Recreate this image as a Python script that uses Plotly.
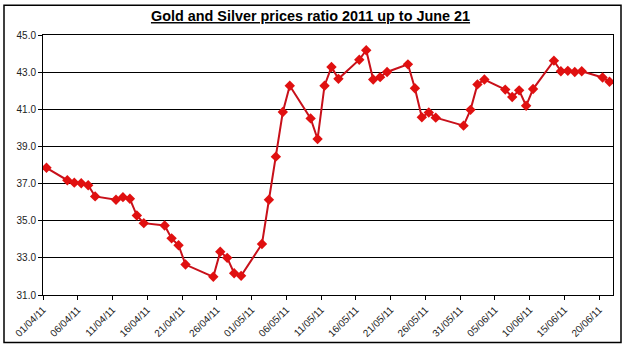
import plotly.graph_objects as go
import pandas as pd

dates = ["2011-04-01", "2011-04-04", "2011-04-05", "2011-04-06", "2011-04-07", "2011-04-08",
         "2011-04-11", "2011-04-12", "2011-04-13", "2011-04-14", "2011-04-15",
         "2011-04-18", "2011-04-19", "2011-04-20", "2011-04-21", "2011-04-25",
         "2011-04-26", "2011-04-27", "2011-04-28", "2011-04-29",
         "2011-05-02", "2011-05-03", "2011-05-04", "2011-05-05", "2011-05-06",
         "2011-05-09", "2011-05-10", "2011-05-11", "2011-05-12", "2011-05-13",
         "2011-05-16", "2011-05-17", "2011-05-18", "2011-05-19", "2011-05-20",
         "2011-05-23", "2011-05-24", "2011-05-25", "2011-05-26", "2011-05-27",
         "2011-05-31", "2011-06-01", "2011-06-02", "2011-06-03",
         "2011-06-06", "2011-06-07", "2011-06-08", "2011-06-09", "2011-06-10",
         "2011-06-13", "2011-06-14", "2011-06-15", "2011-06-16", "2011-06-17",
         "2011-06-20", "2011-06-21"]
ratio = [37.85, 37.18, 37.05, 37.02, 36.91, 36.31,
         36.13, 36.27, 36.18, 35.28, 34.87,
         34.74, 34.05, 33.68, 32.64, 31.98,
         33.33, 33.00, 32.17, 32.03,
         33.75, 36.13, 38.45, 40.85, 42.27,
         40.51, 39.40, 42.27, 43.28, 42.64,
         43.67, 44.18, 42.60, 42.73, 43.01,
         43.42, 42.13, 40.57, 40.83, 40.55,
         40.12, 40.97, 42.34, 42.60,
         42.06, 41.66, 42.02, 41.19, 42.09,
         43.62, 43.05, 43.07, 43.01, 43.05,
         42.71, 42.48]

# points sit in the middle of each day slot
x_vals = pd.to_datetime(dates) + pd.Timedelta(hours=12)

fig = go.Figure()
fig.add_trace(go.Scatter(
    x=x_vals, y=ratio, mode="lines+markers",
    line=dict(color="#C8101A", width=2),
    marker=dict(symbol="diamond", size=8, color="#E01010"),
    showlegend=False,
))

L, R, T, B = 43, 13, 35, 53
W, H = 626, 351
pw, ph = W - L - R, H - T - B

fig.update_layout(
    width=W, height=H,
    margin=dict(l=L, r=R, t=T, b=B),
    paper_bgcolor="white", plot_bgcolor="white",
    font=dict(family="Liberation Sans, Arial, sans-serif", size=10, color="#222"),
    title=dict(text="<b><u>Gold and Silver prices ratio 2011 up to June 21</u></b>",
               x=310.5 / W, xanchor="center", y=1 - 16 / H, yanchor="middle",
               font=dict(size=14.4, color="black")),
    xaxis=dict(
        type="date",
        range=["2011-04-01", "2011-06-22"],
        tick0="2011-04-01", dtick=5 * 86400000,
        tickformat="%d/%m/%y", tickangle=-45,
        ticks="outside", ticklen=4, tickcolor="black",
        showgrid=False, showline=True, linecolor="black", linewidth=1, mirror=True,
        zeroline=False, fixedrange=True,
    ),
    yaxis=dict(
        range=[31, 45], dtick=2, tick0=31, tickformat=".1f",
        ticks="outside", ticklen=4, tickcolor="black",
        showgrid=True, gridcolor="black", gridwidth=1,
        showline=True, linecolor="black", linewidth=1, mirror=True,
        zeroline=False, fixedrange=True,
    ),
)

# outer chart border
fig.add_shape(type="rect", xref="paper", yref="paper",
              x0=(4 - L) / pw, x1=(621 - L) / pw,
              y0=(H - B - 346) / ph, y1=(H - B - 5) / ph,
              line=dict(color="black", width=1.5), fillcolor="rgba(0,0,0,0)",
              layer="below")

fig.write_html("out.html")
